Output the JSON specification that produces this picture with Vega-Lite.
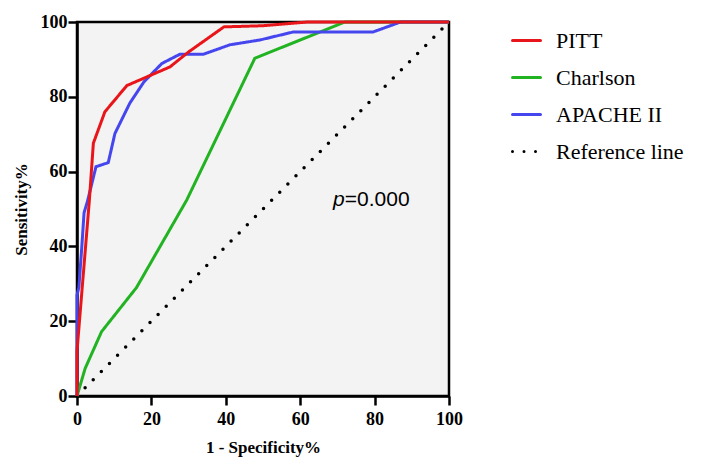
{
  "$schema": "https://vega.github.io/schema/vega-lite/v6.json",
  "autosize": "none",
  "width": 372,
  "height": 374,
  "padding": {"left": 77, "top": 22, "right": 254, "bottom": 77},
  "background": "white",
  "config": {
    "view": {"fill": "#f3f3f3", "stroke": "black", "strokeWidth": 2.5},
    "axis": {
      "grid": false,
      "labelFlush": false,
      "domainColor": "black",
      "domainWidth": 2.5,
      "tickColor": "black",
      "tickWidth": 2.5,
      "tickSize": 9,
      "labelFont": "Liberation Serif",
      "labelFontWeight": "bold",
      "labelFontSize": 18,
      "labelColor": "black",
      "titleFont": "Liberation Serif",
      "titleFontWeight": "bold",
      "titleFontSize": 17,
      "titleColor": "black"
    }
  },
  "datasets": {
    "roc": [
      {"series": "Reference line", "i": 0, "fpr": 0, "tpr": 0},
      {"series": "Reference line", "i": 1, "fpr": 100, "tpr": 100},
      {"series": "Charlson", "i": 0, "fpr": 0, "tpr": 0},
      {"series": "Charlson", "i": 1, "fpr": 2.2, "tpr": 7.4},
      {"series": "Charlson", "i": 2, "fpr": 6.6, "tpr": 17.2},
      {"series": "Charlson", "i": 3, "fpr": 16, "tpr": 29},
      {"series": "Charlson", "i": 4, "fpr": 29.5, "tpr": 52.4},
      {"series": "Charlson", "i": 5, "fpr": 47.8, "tpr": 90.3},
      {"series": "Charlson", "i": 6, "fpr": 72, "tpr": 100},
      {"series": "Charlson", "i": 7, "fpr": 100, "tpr": 100},
      {"series": "APACHE II", "i": 0, "fpr": 0, "tpr": 0},
      {"series": "APACHE II", "i": 1, "fpr": 0, "tpr": 27},
      {"series": "APACHE II", "i": 2, "fpr": 0.5, "tpr": 29},
      {"series": "APACHE II", "i": 3, "fpr": 1.3, "tpr": 40},
      {"series": "APACHE II", "i": 4, "fpr": 1.9, "tpr": 49},
      {"series": "APACHE II", "i": 5, "fpr": 2.8, "tpr": 52},
      {"series": "APACHE II", "i": 6, "fpr": 5.1, "tpr": 61.3},
      {"series": "APACHE II", "i": 7, "fpr": 8.4, "tpr": 62.4},
      {"series": "APACHE II", "i": 8, "fpr": 10.2, "tpr": 70.2},
      {"series": "APACHE II", "i": 9, "fpr": 14.2, "tpr": 78.3},
      {"series": "APACHE II", "i": 10, "fpr": 18, "tpr": 84},
      {"series": "APACHE II", "i": 11, "fpr": 22.8, "tpr": 88.9},
      {"series": "APACHE II", "i": 12, "fpr": 27.7, "tpr": 91.4},
      {"series": "APACHE II", "i": 13, "fpr": 34, "tpr": 91.4},
      {"series": "APACHE II", "i": 14, "fpr": 41.1, "tpr": 93.9},
      {"series": "APACHE II", "i": 15, "fpr": 49.2, "tpr": 95.2},
      {"series": "APACHE II", "i": 16, "fpr": 58, "tpr": 97.3},
      {"series": "APACHE II", "i": 17, "fpr": 79.5, "tpr": 97.3},
      {"series": "APACHE II", "i": 18, "fpr": 87, "tpr": 100},
      {"series": "APACHE II", "i": 19, "fpr": 100, "tpr": 100},
      {"series": "PITT", "i": 0, "fpr": 0, "tpr": 0},
      {"series": "PITT", "i": 1, "fpr": 0, "tpr": 12},
      {"series": "PITT", "i": 2, "fpr": 3.3, "tpr": 52},
      {"series": "PITT", "i": 3, "fpr": 4.4, "tpr": 67.6},
      {"series": "PITT", "i": 4, "fpr": 7.5, "tpr": 76},
      {"series": "PITT", "i": 5, "fpr": 13.4, "tpr": 83},
      {"series": "PITT", "i": 6, "fpr": 19.2, "tpr": 85.5},
      {"series": "PITT", "i": 7, "fpr": 25, "tpr": 88},
      {"series": "PITT", "i": 8, "fpr": 30, "tpr": 92},
      {"series": "PITT", "i": 9, "fpr": 39.5, "tpr": 98.7},
      {"series": "PITT", "i": 10, "fpr": 50, "tpr": 99},
      {"series": "PITT", "i": 11, "fpr": 62, "tpr": 100},
      {"series": "PITT", "i": 12, "fpr": 100, "tpr": 100}
    ],
    "noteP": [
      {"fpr": 68.8, "tpr": 52.4, "label": "p"}
    ],
    "noteV": [
      {"fpr": 72.0, "tpr": 52.4, "label": "=0.000"}
    ]
  },
  "encoding": {
    "x": {
      "field": "fpr", "type": "quantitative",
      "scale": {"domain": [0, 100], "nice": false},
      "axis": {"values": [0, 20, 40, 60, 80, 100], "title": "1 - Specificity%", "titlePadding": 11, "labelPadding": 5}
    },
    "y": {
      "field": "tpr", "type": "quantitative",
      "scale": {"domain": [0, 100], "nice": false},
      "axis": {"values": [0, 20, 40, 60, 80, 100], "title": "Sensitivity%", "titlePadding": 10, "labelPadding": 1}
    }
  },
  "layer": [
    {
      "data": {"name": "roc"},
      "transform": [{"filter": "datum.series === 'Reference line'"}],
      "mark": {"type": "line", "strokeWidth": 3.5, "strokeCap": "round"},
      "encoding": {
        "order": {"field": "i", "type": "quantitative"},
        "color": {
          "field": "series", "type": "nominal",
          "scale": {"domain": ["PITT", "Charlson", "APACHE II", "Reference line"], "range": ["#e8161b", "#22b322", "#4646ef", "black"]},
          "legend": {
            "title": null,
            "orient": "none",
            "legendX": 434,
            "legendY": 3,
            "symbolType": "stroke",
            "symbolSize": 784,
            "symbolStrokeWidth": 3,
            "labelFont": "Liberation Serif",
            "labelFontSize": 22,
            "labelColor": "black",
            "labelOffset": 14,
            "rowPadding": 10,
            "encode": {"symbols": {"update": {"strokeCap": {"value": "round"}}}}
          }
        },
        "strokeDash": {
          "field": "series", "type": "nominal",
          "scale": {"domain": ["PITT", "Charlson", "APACHE II", "Reference line"], "range": [[1, 0], [1, 0], [1, 0], [0, 11.5]]},
          "legend": {
            "title": null,
            "orient": "none",
            "legendX": 434,
            "legendY": 3,
            "symbolType": "stroke",
            "symbolSize": 784,
            "symbolStrokeWidth": 3,
            "labelFont": "Liberation Serif",
            "labelFontSize": 22,
            "labelColor": "black",
            "labelOffset": 14,
            "rowPadding": 10,
            "encode": {"symbols": {"update": {"strokeCap": {"value": "round"}}}}
          }
        }
      }
    },
    {
      "data": {"name": "roc"},
      "transform": [{"filter": "datum.series === 'Charlson'"}],
      "mark": {"type": "line", "strokeWidth": 3},
      "encoding": {
        "order": {"field": "i", "type": "quantitative"},
        "color": {"field": "series", "type": "nominal"},
        "strokeDash": {"field": "series", "type": "nominal"}
      }
    },
    {
      "data": {"name": "roc"},
      "transform": [{"filter": "datum.series === 'APACHE II'"}],
      "mark": {"type": "line", "strokeWidth": 3},
      "encoding": {
        "order": {"field": "i", "type": "quantitative"},
        "color": {"field": "series", "type": "nominal"},
        "strokeDash": {"field": "series", "type": "nominal"}
      }
    },
    {
      "data": {"name": "roc"},
      "transform": [{"filter": "datum.series === 'PITT'"}],
      "mark": {"type": "line", "strokeWidth": 3},
      "encoding": {
        "order": {"field": "i", "type": "quantitative"},
        "color": {"field": "series", "type": "nominal"},
        "strokeDash": {"field": "series", "type": "nominal"}
      }
    },
    {
      "data": {"name": "noteP"},
      "mark": {"type": "text", "align": "left", "baseline": "middle", "font": "Liberation Sans", "fontSize": 21, "fontStyle": "italic", "color": "black"},
      "encoding": {"text": {"field": "label"}}
    },
    {
      "data": {"name": "noteV"},
      "mark": {"type": "text", "align": "left", "baseline": "middle", "font": "Liberation Sans", "fontSize": 21, "color": "black"},
      "encoding": {"text": {"field": "label"}}
    }
  ]
}
